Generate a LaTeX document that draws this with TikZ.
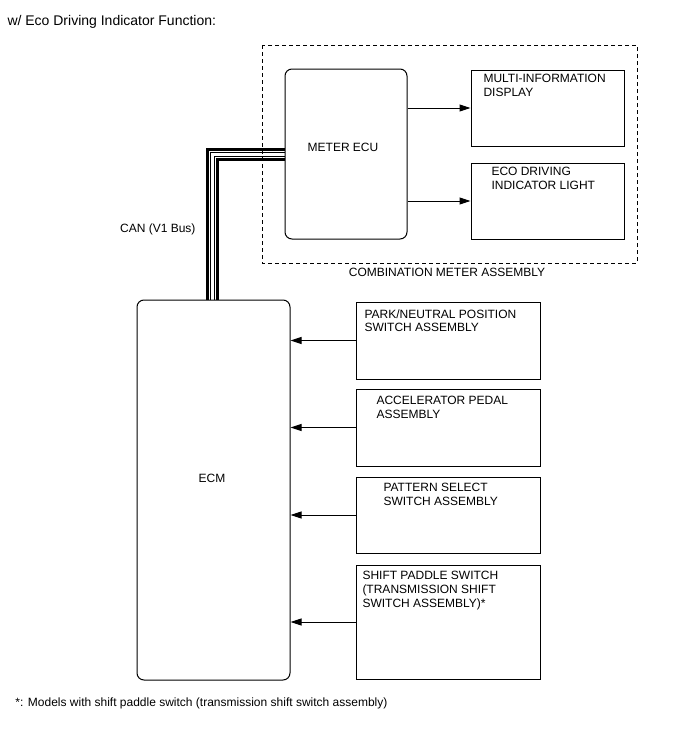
\documentclass[tikz,border=0pt]{standalone}
\usepackage{fontspec}
\setmainfont{Liberation Sans}
\usetikzlibrary{positioning,arrows.meta}

\begin{document}
\begin{tikzpicture}[x=1pt,y=-1pt,line width=1pt,
  every node/.style={font=\fontsize{12}{13.6}\selectfont,inner sep=0pt},
  unitbox/.style={draw,minimum width=#1},
  ecubox/.style={draw,rounded corners=7pt},
  boxtext/.style={anchor=north west,align=left},
  sig/.style={-{Triangle[length=11pt,width=7pt]}}]
\useasboundingbox (0,0) rectangle (688,755);
\node[anchor=west,font=\fontsize{14}{15}\selectfont] (title) at (7,22) {w/ Eco Driving Indicator Function:};
\draw[dashed,line width=0.8pt,dash pattern=on 4pt off 3pt] (262,45) rectangle (637,263);
\node (cmtext) at (447,272) {COMBINATION METER ASSEMBLY};
\node[ecubox,minimum width=122pt,minimum height=170pt] (meter) at (346,154) {};
\node (metertext) at (343,147) {METER ECU};
\node[unitbox=153pt,minimum height=76pt] (mid) at (547.5,108) {};
\node[boxtext] (midtext) at (483,74) {MULTI-INFORMATION\\DISPLAY};
\node[unitbox=153pt,minimum height=76pt] (eco) at (547.5,201) {};
\node[boxtext] (ecotext) at (491,167) {ECO DRIVING\\INDICATOR LIGHT};
\draw[sig] (meter.east |- mid.west) -- (mid.west);
\draw[sig] (meter.east |- eco.west) -- (eco.west);
\node[ecubox,minimum width=153pt,minimum height=380pt] (ecm) at (213.5,490) {};
\node (ecmtext) at (212,478) {ECM};
\node[anchor=east] (cantext) at (196,229) {CAN (V1 Bus)};
\foreach \d/\w in {0/3pt,3.8/1pt,7/1pt,10.5/3pt}
  \draw[line width=\w] ([xshift=70.5pt+\d pt]ecm.north west) |- ([yshift=5pt-\d pt]meter.west);
\node[unitbox=184pt,minimum height=77pt] (pnp) at (448,340.5) {};
\node[boxtext] (pnptext) at (364,309) {PARK/NEUTRAL POSITION\\SWITCH ASSEMBLY};
\node[unitbox=184pt,minimum height=77pt] (accel) at (448,427.5) {};
\node[boxtext] (acceltext) at (376,396) {ACCELERATOR PEDAL\\ASSEMBLY};
\node[unitbox=184pt,minimum height=76pt] (pattern) at (448,515) {};
\node[boxtext] (patterntext) at (383,483) {PATTERN SELECT\\SWITCH ASSEMBLY};
\node[unitbox=184pt,minimum height=114pt] (paddle) at (448,622) {};
\node[boxtext] (paddletext) at (362,571) {SHIFT PADDLE SWITCH\\(TRANSMISSION SHIFT\\SWITCH ASSEMBLY)*};
\draw[sig] (pnp.west) -- (ecm.east |- pnp.west);
\draw[sig] (accel.west) -- (ecm.east |- accel.west);
\draw[sig] (pattern.west) -- (ecm.east |- pattern.west);
\draw[sig] (paddle.west) -- (ecm.east |- paddle.west);
\node[anchor=west] (note) at (15,703) {*: Models with shift paddle switch (transmission shift switch assembly)};
\end{tikzpicture}
\end{document}
